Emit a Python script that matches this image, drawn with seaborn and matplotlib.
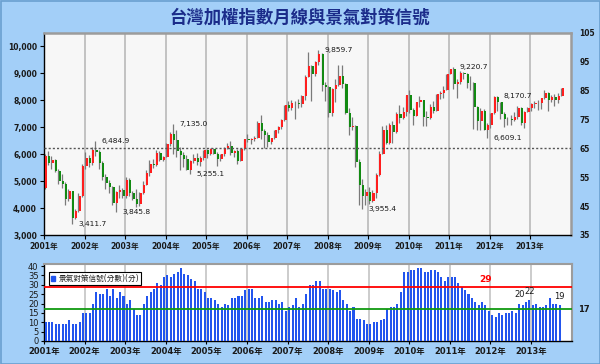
import numpy as np
import matplotlib
matplotlib.use("Agg")
import matplotlib.pyplot as plt
import matplotlib.transforms as mtransforms
from matplotlib.patches import Rectangle, Patch
from matplotlib.ticker import FuncFormatter
import seaborn as sns

# ---------------- data ----------------
title = "台灣加權指數月線與景氣對策信號"
year_labels = [f"{y}年" for y in range(2001, 2014)]

# monthly TAIEX candles, Jan 2001 .. Oct 2013
open_ = [4739, 5936, 5674, 5797, 5381, 5005, 4883, 4352, 4616, 3636, 3903, 4441,
         5551, 5872, 5686, 6167, 6065, 5675, 5153, 4941, 4764, 4191, 4579, 4680,
         4452, 5050, 4556, 4321, 4148, 4555, 4872, 5318, 5650, 5611, 6045, 5771,
         5890, 6375, 6750, 6522, 6117, 5977, 5840, 5420, 5765, 5845, 5706, 5844,
         6140, 5994, 6207, 6005, 5819, 6012, 6241, 6312, 6033, 6118, 5764, 6204,
         6548, 6532, 6561, 6613, 7171, 6846, 6704, 6455, 6611, 6883, 7021, 7284,
         7823, 7699, 7901, 7884, 7875, 8145, 8883, 9287, 8982, 9411, 9711, 8586,
         8506, 7521, 8412, 8572, 8919, 8620, 7523, 7024, 7046, 5719, 4870, 4460,
         4591, 4248, 4557, 5211, 5993, 6890, 6432, 7078, 6826, 7509, 7340, 7582,
         8188, 7640, 7436, 7920, 8004, 7374, 7329, 7761, 7616, 8238, 8287, 8372,
         8973, 9145, 8600, 8683, 9008, 8988, 8653, 8644, 7741, 7225, 7588, 6904,
         7072, 7517, 8121, 7933, 7501, 7301, 7296, 7270, 7397, 7715, 7166, 7580,
         7700, 7850, 7907, 7919, 8093, 8254, 7997, 8107, 8022, 8174]
high = [6020, 6104, 5940, 5830, 5460, 5270, 4960, 4690, 4600, 3980, 4560, 5630,
        6080, 5960, 6250, 6485, 6160, 5730, 5260, 5050, 4830, 4630, 4870, 4740,
        5140, 5100, 4650, 4690, 4600, 5010, 5420, 5780, 5820, 6165, 6115, 5920,
        6400, 6810, 7135, 6880, 6260, 6080, 5960, 5780, 5990, 6050, 5950, 6160,
        6190, 6240, 6240, 6090, 6020, 6270, 6400, 6480, 6170, 6210, 6220, 6580,
        6740, 6620, 6670, 7240, 7474, 6940, 6840, 6620, 6890, 7060, 7300, 7830,
        7990, 7999, 7960, 8040, 8180, 8940, 9807, 9330, 9460, 9860, 9750, 8690,
        8545, 8440, 8810, 9310, 9310, 8630, 7710, 7380, 7070, 5810, 5070, 4700,
        4790, 4680, 5300, 6120, 7050, 7070, 7140, 7230, 7580, 7811, 7740, 8190,
        8396, 7720, 7940, 8170, 8010, 7600, 7850, 7990, 8250, 8340, 8520, 8990,
        9170, 9221, 8800, 9080, 9050, 9000, 8890, 8680, 7800, 7700, 7660, 7160,
        7530, 8170, 8171, 7940, 7560, 7370, 7450, 7580, 7780, 7740, 7600, 7750,
        7890, 7990, 8000, 8100, 8400, 8300, 8200, 8230, 8280, 8460]
low = [4700, 5600, 5460, 5330, 4880, 4750, 4130, 4250, 3412, 3600, 3850, 4400,
       5450, 5530, 5600, 5950, 5460, 5060, 4700, 4550, 4130, 3846, 4380, 4370,
       4390, 4450, 4300, 4040, 4080, 4520, 4870, 5190, 5480, 5570, 5730, 5730,
       5890, 6290, 6020, 5900, 5420, 5540, 5400, 5255, 5680, 5600, 5580, 5800,
       5870, 5970, 5990, 5566, 5740, 5950, 6200, 5970, 5910, 5618, 5755, 6170,
       6440, 6370, 6490, 6610, 6570, 6230, 6257, 6390, 6570, 6770, 6930, 7240,
       7590, 7640, 7306, 7720, 7740, 8030, 8870, 7987, 8920, 9300, 8350, 7990,
       7384, 7400, 7950, 8520, 8460, 7500, 6710, 6880, 5530, 4110, 3955, 4110,
       4164, 4230, 4380, 5200, 5990, 6380, 6380, 6400, 6780, 7140, 7290, 7400,
       7540, 7080, 7410, 7760, 7030, 7060, 7290, 7540, 7610, 8060, 8100, 8370,
       8970, 8410, 8070, 8620, 8800, 8450, 8400, 6940, 6880, 6910, 6880, 6609,
       6970, 7500, 7600, 7310, 7010, 7070, 7100, 7250, 7300, 7080, 6960, 7560,
       7620, 7710, 7640, 7680, 8050, 7600, 7950, 7790, 7900, 8150]
close = [5936, 5674, 5797, 5381, 5005, 4883, 4352, 4616, 3636, 3903, 4441, 5551,
         5872, 5686, 6167, 6065, 5675, 5153, 4941, 4764, 4191, 4579, 4680, 4452,
         5050, 4556, 4321, 4148, 4555, 4872, 5318, 5650, 5611, 6045, 5771, 5890,
         6375, 6750, 6522, 6117, 5977, 5840, 5420, 5765, 5845, 5706, 5844, 6140,
         5994, 6207, 6005, 5819, 6012, 6241, 6312, 6033, 6118, 5764, 6204, 6548,
         6532, 6561, 6613, 7171, 6846, 6704, 6455, 6611, 6883, 7021, 7284, 7823,
         7699, 7901, 7884, 7875, 8145, 8883, 9287, 8982, 9411, 9711, 8586, 8506,
         7521, 8412, 8572, 8919, 8620, 7523, 7024, 7046, 5719, 4870, 4460, 4591,
         4248, 4557, 5211, 5993, 6890, 6432, 7078, 6826, 7509, 7340, 7582, 8188,
         7640, 7436, 7920, 8004, 7374, 7329, 7761, 7616, 8238, 8287, 8372, 8973,
         9145, 8600, 8683, 9008, 8988, 8653, 8644, 7741, 7225, 7588, 6904, 7072,
         7517, 8121, 7933, 7501, 7301, 7296, 7270, 7397, 7715, 7166, 7580, 7700,
         7850, 7907, 7919, 8093, 8254, 7997, 8107, 8022, 8174, 8450]

# labelled extremes (month index, value, text)
ext_month = [8, 15, 21, 38, 43, 81, 94, 121, 131, 134]
ext_value = [3411.7, 6484.9, 3845.8, 7135.0, 5255.1, 9859.7, 3955.4, 9220.7, 6609.1, 8170.7]
ext_text = ["3,411.7", "6,484.9", "3,845.8", "7,135.0", "5,255.1",
            "9,859.7", "3,955.4", "9,220.7", "6,609.1", "8,170.7"]

# monitoring indicator score, Jan 2001 .. Sep 2013
scores = [10, 10, 10, 9, 9, 9, 9, 11, 9, 9, 10, 15,
          15, 15, 20, 26, 25, 25, 28, 24, 28, 23, 26, 24,
          20, 22, 17, 14, 14, 20, 24, 26, 28, 31, 30, 34,
          35, 34, 36, 37, 39, 36, 35, 33, 32, 28, 28, 26,
          23, 23, 22, 20, 18, 20, 19, 23, 23, 24, 24, 27,
          28, 28, 23, 23, 24, 21, 21, 22, 22, 20, 21, 16,
          18, 19, 23, 18, 20, 25, 30, 30, 32, 32, 28, 28,
          28, 27, 26, 27, 22, 20, 16, 18, 12, 12, 11, 9,
          9, 10, 10, 11, 12, 17, 18, 18, 20, 26, 37, 37,
          38, 38, 39, 39, 37, 37, 38, 38, 37, 34, 32, 34,
          34, 34, 31, 29, 27, 25, 23, 21, 19, 21, 19, 16,
          14, 13, 15, 14, 15, 15, 16, 15, 20, 19, 21, 22,
          19, 20, 18, 18, 19, 23, 20, 20, 19]
score_label_months = [140, 143, 152]
red_line = 29
green_line = 17
right_ref = 65
score_legend = "景氣對策信號(分數)(分)"

# ---------------- style ----------------
sns.set_theme(style="white")
plt.rcParams['font.family'] = ['DejaVu Sans', 'Noto Sans CJK TC']
plt.rcParams['axes.unicode_minus'] = False

BG = "#A3CFF8"
PANEL = "#F7F7F7"
RED = "#FF1E1E"
GREEN = "#128A12"
WICK = "#7A7A7A"
BLUE = "#2255EE"
TXT = "#1A1A1A"

W, H = 600, 364
fig = plt.figure(figsize=(W / 100, H / 100), dpi=100)
fig.patch.set_facecolor(BG)
fig.patches.append(Rectangle((0.5 / W, 0.5 / H), 1 - 1 / W, 1 - 1 / H, transform=fig.transFigure,
                             fill=False, edgecolor="#6A9FD0", lw=1.2))


def frac(x0, y0, x1, y1):
    return [x0 / W, 1 - y1 / H, (x1 - x0) / W, (y1 - y0) / H]


fig.text(0.5, 1 - 18 / H, title, ha="center", va="center", fontsize=12.5,
         fontweight="bold", color="#1B2C8A", family=["Noto Sans CJK TC"])

XMIN, XMAX = -0.5, 155.6
year_ticks = np.arange(len(year_labels)) * 12 - 0.5
TICK_FS = 5.5

# ---------------- main candlestick panel ----------------
ax = fig.add_axes(frac(44, 33, 571, 235))
ax.set_facecolor(PANEL)
o = np.array(open_, float)
h = np.array(high, float)
lo = np.array(low, float)
c = np.array(close, float)
m = np.arange(len(c))
up = c >= o
ax.vlines(m - 0.3, lo, h, color=WICK, lw=0.9, zorder=2)
ax.bar(m + 0.1, np.maximum(np.abs(c - o), 8), bottom=np.minimum(o, c), width=0.6,
       color=np.where(up, RED, GREEN), linewidth=0, zorder=3)

for mi, v, t in zip(ext_month, ext_value, ext_text):
    ax.annotate(t, (mi, v), xytext=(4, 0), textcoords="offset points", ha="left",
                va="center", fontsize=5.4, color=TXT, zorder=5)

ax.set_xlim(XMIN, XMAX)
ax.set_ylim(3000, 10500)
ax.set_yticks(np.arange(3000, 10001, 1000))
ax.yaxis.set_major_formatter(FuncFormatter(lambda v, p: f"{int(v):,}"))
ax.set_xticks(year_ticks)
ax.set_xticklabels(year_labels)
ax.xaxis.grid(True, color="#BEBEBE", lw=1.3, zorder=0)
ax.yaxis.grid(False)
ax.set_axisbelow(True)
ax.tick_params(axis="both", which="major", length=3, width=0.8, color="black",
               labelsize=TICK_FS, pad=2, labelcolor=TXT, left=True, bottom=True)
for lab in ax.get_xticklabels() + ax.get_yticklabels():
    lab.set_fontweight("bold")
for s in ["left", "bottom"]:
    ax.spines[s].set_color("black")
    ax.spines[s].set_linewidth(1.0)
for s in ["top", "right"]:
    ax.spines[s].set_color("#9C9C9C")
    ax.spines[s].set_linewidth(1.8)

axr = ax.twinx()
axr.set_ylim(35, 105)
axr.set_yticks(np.arange(35, 106, 10))
axr.axhline(right_ref, color="#555555", lw=1.0, ls=(0, (1.5, 1.5)), zorder=1)
axr.tick_params(axis="y", length=0, labelsize=TICK_FS, pad=6, labelcolor=TXT)
for lab in axr.get_yticklabels():
    lab.set_fontweight("bold")
for s in axr.spines.values():
    s.set_visible(False)

# ---------------- score bar panel ----------------
ax2 = fig.add_axes(frac(44, 264, 572, 341))
ax2.set_facecolor("white")
sm = np.arange(len(scores))
sns.barplot(x=sm, y=scores, native_scale=True, color=BLUE, saturation=1, width=0.6,
            errorbar=None, ax=ax2, linewidth=0, zorder=3)
ax2.axhline(red_line, color="#FF0000", lw=1.3, zorder=4)
ax2.axhline(green_line, color="#109A10", lw=1.3, zorder=4)
ax2.text(130, red_line + 1.2, str(red_line), color="#FF0000", fontsize=6.5,
         fontweight="bold", ha="center", va="bottom", zorder=5)
trans = mtransforms.blended_transform_factory(ax2.transAxes, ax2.transData)
ax2.text(1.012, green_line, str(green_line), transform=trans, color=TXT,
         fontsize=6, fontweight="bold", ha="left", va="center")
for mi in score_label_months:
    ax2.text(mi, scores[mi] + 2.2, str(scores[mi]), ha="center", va="bottom",
             fontsize=6, color=TXT, zorder=5)

ax2.set_xlim(XMIN, XMAX)
ax2.set_ylim(0, 41.1)
ax2.set_yticks(np.arange(0, 41, 5))
ax2.set_xticks(year_ticks)
ax2.set_xticklabels(year_labels)
ax2.set_xlabel("")
ax2.set_ylabel("")
ax2.xaxis.grid(True, color="#C4C4C4", lw=1.2, zorder=0)
ax2.yaxis.grid(False)
ax2.set_axisbelow(True)
ax2.tick_params(axis="both", which="major", length=2, width=0.8, color="black",
                labelsize=TICK_FS + 0.5, pad=2, labelcolor=TXT, left=True, bottom=True)
for lab in ax2.get_xticklabels():
    lab.set_fontweight("bold")
for s in ["left", "bottom"]:
    ax2.spines[s].set_color("black")
    ax2.spines[s].set_linewidth(1.0)
for s in ["top", "right"]:
    ax2.spines[s].set_color("#9C9C9C")
    ax2.spines[s].set_linewidth(1.5)

leg = ax2.legend(handles=[Patch(color=BLUE, label=score_legend)], loc="upper left",
                 bbox_to_anchor=(0.002, 0.94), frameon=True,
                 fancybox=False, framealpha=1, edgecolor="black", handlelength=0.6,
                 handleheight=0.6, handletextpad=0.4, borderpad=0.25,
                 prop={"family": ["DejaVu Sans", "Noto Sans CJK TC"], "size": 5.5})
leg.get_frame().set_linewidth(0.8)

fig.savefig("out.png", dpi=100, facecolor=fig.get_facecolor())
